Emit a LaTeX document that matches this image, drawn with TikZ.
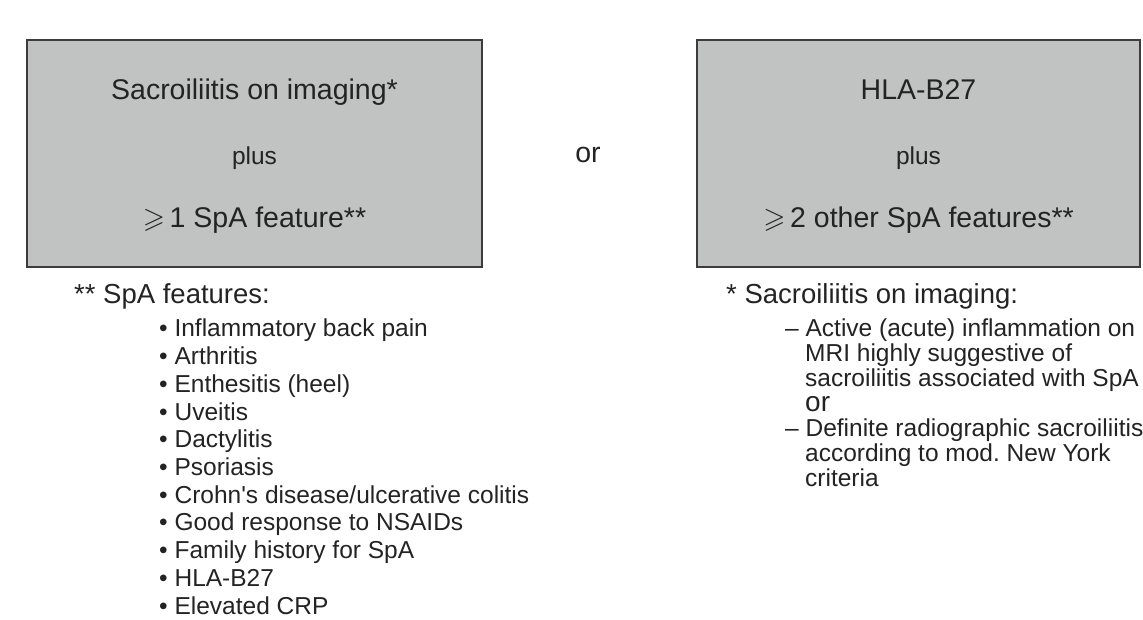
\documentclass[tikz,border=0pt]{standalone}
\usepackage{amssymb}
\usepackage{fontspec}
\setmainfont{Liberation Sans}
\usepackage{xcolor}
\definecolor{boxgray}{RGB}{192,195,194}
\definecolor{boxline}{RGB}{60,60,60}
\definecolor{textgray}{RGB}{35,35,35}

\begin{document}
\begin{tikzpicture}[
    x=1pt, y=-1pt,
    text=textgray,
    box/.style={rectangle, draw=boxline, fill=boxgray, line width=1.8pt, inner sep=0pt, minimum height=227pt},
    boxtext/.style={font=\fontsize{28.5}{34}\selectfont, anchor=base},
    plustext/.style={font=\fontsize{24.5}{28}\selectfont, anchor=base},
    heading/.style={font=\fontsize{27.5}{32}\selectfont, anchor=base west, inner sep=0pt},
    item/.style={font=\fontsize{24.5}{28}\selectfont, anchor=base west, inner sep=0pt}
]
    \useasboundingbox (0,0) rectangle (1143,620);

    % --- 1. Left Criteria Box ---
    \node[box, minimum width=455pt] (imgbox) at (254.5,153.5) {};
    \node[boxtext] (imgtop) at (254.5,100) {Sacroiliitis on imaging*};
    \node[plustext] (imgplus) at (254.5,165) {plus};
    \node[boxtext] (imgbot) at (254.5,228) {$\geqslant$\,1 SpA feature**};

    % --- 2. Alternative ---
    \node[boxtext] (ortext) at (588,163) {or};

    % --- 3. Right Criteria Box ---
    \node[box, minimum width=443pt] (hlabox) at (918.5,153.5) {};
    \node[boxtext] (hlatop) at (918.5,100) {HLA-B27};
    \node[plustext] (hlaplus) at (918.5,165) {plus};
    \node[boxtext] (hlabot) at (918.5,228) {$\geqslant$\,2 other SpA features**};

    % --- 4. SpA Feature List ---
    \node[heading] (spahead) at (74,304) {** SpA features:};
    \foreach \feat [count=\i] in {Inflammatory back pain, Arthritis, Enthesitis (heel), Uveitis,
        Dactylitis, Psoriasis, Crohn\textquotesingle s disease/ulcerative colitis, Good response to NSAIDs,
        Family history for SpA, HLA-B27, Elevated CRP}
        \node[item] (spa\i) at (159, {337+27.7*(\i-1)}) {\textbullet\ \feat};

    % --- 5. Sacroiliitis on Imaging ---
    \node[heading] (sihead) at (726,304) {* Sacroiliitis on imaging:};
    \node[item] (sia) at (785,336) {– Active (acute) inflammation on};
    \node[item] (sib) at (805,361) {MRI highly suggestive of};
    \node[item] (sic) at (805,386) {sacroiliitis associated with SpA};
    \node[item, font=\fontsize{28}{32}\selectfont] (sior) at (805,411) {or};
    \node[item] (sid) at (785,436) {– Definite radiographic sacroiliitis};
    \node[item] (sie) at (805,461) {according to mod.\ New York};
    \node[item] (sif) at (805,486) {criteria};

\end{tikzpicture}
\end{document}
